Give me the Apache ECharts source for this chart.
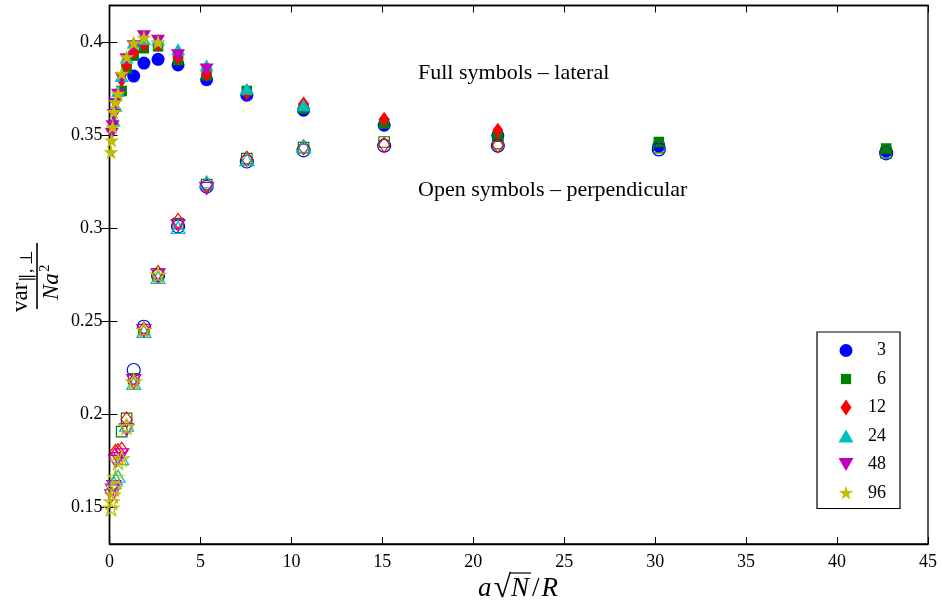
<!DOCTYPE html>
<html>
<head>
<meta charset="utf-8">
<script src="https://cdn.jsdelivr.net/npm/echarts@6/dist/echarts.min.js"></script>
<style>
html, body { margin: 0; padding: 0; background: #fff; }
#chart { width: 943px; height: 607px; }
</style>
</head>
<body>
<div id="chart"></div>
<script>
// Chain lengths N shown in the legend
const chainLengths = ['3', '6', '12', '24', '48', '96'];

// x = a*sqrt(N)/R for each chain length, with lateral (full) and perpendicular (open) variances
const x3 = [1.33, 1.89, 2.67, 3.77, 5.34, 7.55, 10.67, 15.1, 21.35, 30.2, 42.7];
const lateral3 = [0.382, 0.389, 0.391, 0.388, 0.380, 0.3717, 0.3636, 0.3555, 0.350, 0.3443, 0.3415];
const perp3 = [0.2237, 0.247, 0.2745, 0.301, 0.3225, 0.336, 0.342, 0.3445, 0.3445, 0.3425, 0.3404];

const x6 = [0.67, 0.94, 1.33, 1.89, 2.67, 3.77, 5.34, 7.55, 10.67, 15.1, 21.35, 30.2, 42.7];
const lateral6 = [0.374, 0.386, 0.393, 0.397, 0.398, 0.3905, 0.3824, 0.374, 0.3645, 0.3564, 0.3495, 0.3465, 0.343];
const perp6 = [0.1905, 0.1977, 0.219, 0.2455, 0.2755, 0.3025, 0.3235, 0.3375, 0.3435, 0.3465, 0.3456, 0.3435, 0.3406];

const x12 = [0.33, 0.47, 0.67, 0.94, 1.33, 1.89, 2.67, 3.77, 5.34, 7.55, 10.67, 15.1, 21.35];
const lateral12 = [0.364, 0.372, 0.380, 0.388, 0.395, 0.399, 0.399, 0.392, 0.383, 0.373, 0.367, 0.3587, 0.3528];
const perp12 = [0.1795, 0.180, 0.1807, 0.197, 0.2175, 0.2455, 0.276, 0.304, 0.3235, 0.3375, 0.3437, 0.345, 0.3447];

const x24 = [0.24, 0.33, 0.47, 0.67, 0.94, 1.33, 1.89, 2.67, 3.77, 5.34, 7.55, 10.67];
const lateral24 = [0.358, 0.366, 0.374, 0.382, 0.392, 0.400, 0.402, 0.4015, 0.3965, 0.3878, 0.3752, 0.3663];
const perp24 = [0.163, 0.165, 0.1665, 0.176, 0.194, 0.2165, 0.2445, 0.2735, 0.3005, 0.325, 0.337, 0.3442];

const x48 = [0.12, 0.17, 0.24, 0.33, 0.47, 0.67, 0.94, 1.33, 1.89, 2.67, 3.77, 5.34];
const lateral48 = [0.351, 0.355, 0.361, 0.367, 0.372, 0.381, 0.391, 0.398, 0.4035, 0.401, 0.3932, 0.3855];
const perp48 = [0.156, 0.159, 0.161, 0.1745, 0.176, 0.178, 0.1915, 0.218, 0.245, 0.275, 0.3015, 0.3215];

const x96 = [0.083, 0.12, 0.17, 0.24, 0.33, 0.47, 0.67, 0.94, 1.33, 1.89, 2.67];
const lateral96 = [0.3411, 0.3474, 0.3546, 0.3627, 0.368, 0.3726, 0.3833, 0.3923, 0.3998, 0.4027, 0.4003];
const perp96 = [0.1493, 0.1528, 0.1565, 0.160, 0.166, 0.1744, 0.176, 0.1932, 0.2174, 0.2452, 0.2748];

// Axis ticks
const xTicks = [0, 5, 10, 15, 20, 25, 30, 35, 40, 45];
const yTicks = [0.15, 0.2, 0.25, 0.3, 0.35, 0.4];

const groups = [
  { x: x3, lat: lateral3, perp: perp3 },
  { x: x6, lat: lateral6, perp: perp6 },
  { x: x12, lat: lateral12, perp: perp12 },
  { x: x24, lat: lateral24, perp: perp24 },
  { x: x48, lat: lateral48, perp: perp48 },
  { x: x96, lat: lateral96, perp: perp96 }
];

const STAR = 'path://M50,0 L61.2,34.5 L97.6,34.5 L68.2,55.9 L79.4,90.5 L50,69.1 L20.6,90.5 L31.8,55.9 L2.4,34.5 L38.8,34.5 Z';
const TRI_DOWN = 'path://M0,0 L100,0 L50,86 Z';
const markers = [
  { color: '#0000ff', symbol: 'circle', size: 13 },
  { color: '#008000', symbol: 'rect', size: 10.5 },
  { color: '#ff0000', symbol: 'diamond', size: [11, 15] },
  { color: '#00bfbf', symbol: 'triangle', size: [14, 12] },
  { color: '#bf00bf', symbol: TRI_DOWN, size: [14, 12] },
  { color: '#bfbf00', symbol: STAR, size: 15 }
];

// Legend icons drawn in a 16x16 box (the leading moves pin the box to 0..100)
const BOX = 'path://M0,0 M100,100 ';
const legendIcons = [
  BOX + 'M50,9.4 A40.6,40.6 0 1 1 49.99,9.4 Z',
  BOX + 'M18,18 L82,18 L82,82 L18,82 Z',
  BOX + 'M50,0 L84.4,50 L50,100 L15.6,50 Z',
  BOX + 'M50,9 L97,90 L3,90 Z',
  BOX + 'M3,10 L97,10 L50,91 Z',
  BOX + 'M50,5 L60.5,37.4 L94.7,37.4 L67.1,57.5 L77.6,90.1 L50,70 L22.4,90.1 L32.9,57.5 L5.3,37.4 L39.5,37.4 Z'
];

const SERIF = '"Liberation Serif", "Times New Roman", serif';

function pairs(xs, ys) { return xs.map((x, i) => [x, ys[i]]); }

const fullSeries = groups.map((g, i) => ({
  name: chainLengths[i],
  type: 'scatter',
  data: pairs(g.x, g.lat),
  symbol: markers[i].symbol,
  symbolSize: markers[i].size,
  itemStyle: { color: markers[i].color, opacity: 1 },
  silent: true,
  z: 2
}));

const openSeries = groups.map((g, i) => ({
  name: chainLengths[i],
  type: 'scatter',
  data: pairs(g.x, g.perp),
  symbol: markers[i].symbol,
  symbolSize: markers[i].size,
  itemStyle: { color: 'rgba(255,255,255,0)', borderColor: markers[i].color, borderWidth: 1.2, opacity: 1 },
  silent: true,
  z: 2
}));

// measure text widths for composing the math-style x axis title
const mctx = document.createElement('canvas').getContext('2d');
function textWidth(font, s) { mctx.font = font; return mctx.measureText(s).width; }

const xFs = 27;
const xPieces = [
  { text: 'a', size: xFs, italic: true, gap: 2 },
  { text: '\u221A', size: 32, italic: false, gap: 0 },
  { text: 'N', size: xFs, italic: true, gap: 3 },
  { text: '/', size: xFs, italic: false, gap: 2 },
  { text: 'R', size: xFs, italic: true, gap: 0 }
];
const xWidths = xPieces.map(p => textWidth((p.italic ? 'italic ' : '') + p.size + 'px "Liberation Serif"', p.text));
const xTotal = xWidths.reduce((a, b) => a + b, 0) + xPieces.reduce((a, p) => a + p.gap, 0);
const xTitleEls = [];
let cursor = 518 - xTotal / 2;
let nLeft = 0, nRight = 0;
xPieces.forEach((p, i) => {
  if (p.text === 'N') { nLeft = cursor; nRight = cursor + xWidths[i]; }
  xTitleEls.push({
    type: 'text', x: cursor, y: 588.5, silent: true,
    style: {
      text: p.text, fontFamily: SERIF, fontStyle: p.italic ? 'italic' : 'normal', fontSize: p.size,
      fill: '#000', textAlign: 'left', textVerticalAlign: 'middle'
    }
  });
  cursor += xWidths[i] + p.gap;
});
xTitleEls.push({
  type: 'line', silent: true,
  shape: { x1: nLeft - 1, y1: 573, x2: nRight + 2, y2: 573 },
  style: { stroke: '#000', lineWidth: 1.2 }
});

// y axis title: var_{||,perp} / (N a^2), turned to read upwards
const yTitle = {
  type: 'group',
  x: 37,
  y: 276,
  rotation: Math.PI / 2,
  silent: true,
  children: [
    { type: 'text', x: -36, y: -5, style: { text: 'var', fontFamily: SERIF, fontSize: 23, fill: '#000', textAlign: 'left', textVerticalAlign: 'bottom' } },
    { type: 'text', x: -6, y: -1, style: { text: '\u2225,\u2009\u22A5', fontFamily: SERIF, fontSize: 17, fill: '#000', textAlign: 'left', textVerticalAlign: 'bottom' } },
    { type: 'line', shape: { x1: -33, y1: 0, x2: 33, y2: 0 }, style: { stroke: '#000', lineWidth: 1.6 } },
    { type: 'text', x: -24, y: 3, style: { text: 'Na', fontFamily: SERIF, fontStyle: 'italic', fontSize: 23, fill: '#000', textAlign: 'left', textVerticalAlign: 'top' } },
    { type: 'text', x: 4, y: 1, style: { text: '2', fontFamily: SERIF, fontSize: 15, fill: '#000', textAlign: 'left', textVerticalAlign: 'top' } }
  ]
};

const chart = echarts.init(document.getElementById('chart'), null, { renderer: 'canvas' });

const axisLabelStyle = { fontFamily: SERIF, fontSize: 18, color: '#000' };

chart.setOption({
  animation: false,
  backgroundColor: '#fff',
  grid: {
    left: 109.5, right: 15, top: 5.5, bottom: 63,
    show: true, borderColor: '#000', borderWidth: 1.3, backgroundColor: '#fff'
  },
  legend: {
    data: chainLengths.map((n, i) => ({ name: n, icon: legendIcons[i] })),
    orient: 'vertical',
    left: 817,
    top: 332,
    padding: [9.5, 14, 6.5, 21],
    itemGap: 10.5,
    itemWidth: 16,
    itemHeight: 16,
    backgroundColor: '#fff',
    borderColor: '#000',
    borderWidth: 1.2,
    borderRadius: 0,
    selectedMode: false,
    formatter: '{t|{name}}',
    textStyle: {
      fontFamily: SERIF,
      fontSize: 18,
      color: '#000',
      rich: { t: { width: 27, align: 'right', fontFamily: SERIF, fontSize: 18, lineHeight: 18, color: '#000' } }
    }
  },
  xAxis: [
    {
      type: 'value', position: 'bottom', min: 0, max: 45, interval: 5,
      splitLine: { show: false },
      axisLine: { show: true, lineStyle: { color: '#000', width: 1.3 } },
      axisTick: { show: true, inside: true, length: 7, lineStyle: { color: '#000', width: 1 }, customValues: xTicks },
      axisLabel: { ...axisLabelStyle, margin: 9, customValues: xTicks }
    },
    {
      type: 'value', position: 'top', min: 0, max: 45, interval: 5,
      splitLine: { show: false },
      axisLine: { show: true, lineStyle: { color: '#000', width: 1.3 } },
      axisTick: { show: true, inside: true, length: 7, lineStyle: { color: '#000', width: 1 } },
      axisLabel: { show: false }
    }
  ],
  yAxis: [
    {
      type: 'value', position: 'left', min: 0.13, max: 0.42,
      splitLine: { show: false },
      axisLine: { show: true, lineStyle: { color: '#000', width: 1.3 } },
      axisTick: { show: true, inside: true, length: 8, lineStyle: { color: '#000', width: 1 }, customValues: yTicks },
      axisLabel: { ...axisLabelStyle, margin: 7, customValues: yTicks, formatter: v => String(+v.toFixed(2)) }
    },
    {
      type: 'value', position: 'right', min: 0.13, max: 0.42,
      splitLine: { show: false },
      axisLine: { show: true, lineStyle: { color: '#000', width: 1.3 } },
      axisTick: { show: true, inside: true, length: 8, lineStyle: { color: '#000', width: 1 }, customValues: yTicks },
      axisLabel: { show: false, customValues: yTicks }
    }
  ],
  series: fullSeries.concat(openSeries),
  graphic: [
    { type: 'text', x: 418, y: 73, silent: true, style: { text: 'Full symbols \u2013 lateral', fontFamily: SERIF, fontSize: 22, fill: '#000', textAlign: 'left', textVerticalAlign: 'middle' } },
    { type: 'text', x: 418, y: 190, silent: true, style: { text: 'Open symbols \u2013 perpendicular', fontFamily: SERIF, fontSize: 22, fill: '#000', textAlign: 'left', textVerticalAlign: 'middle' } },
    yTitle
  ].concat(xTitleEls)
});
</script>
</body>
</html>
